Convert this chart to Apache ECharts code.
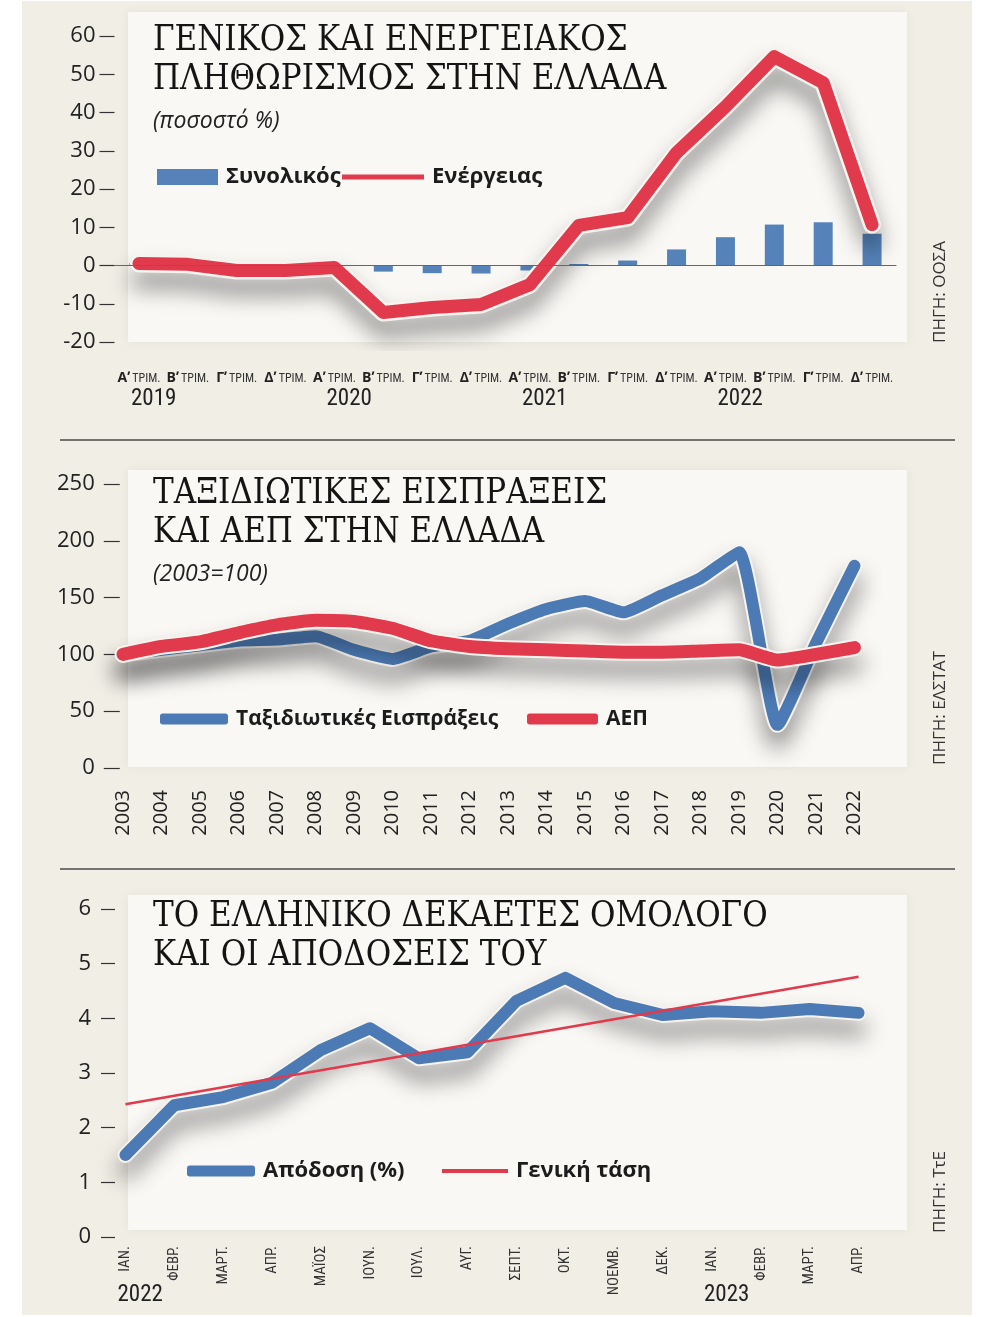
<!DOCTYPE html>
<html>
<head>
<meta charset="utf-8">
<script src="https://cdn.jsdelivr.net/npm/echarts@6/dist/echarts.min.js"></script>
<style>
  html, body { margin: 0; padding: 0; background: #fff; }
  #chart { width: 1000px; height: 1317px; }
</style>
</head>
<body>
<div id="chart"></div>
<script>
  // --- chart 1: inflation, quarterly ---
  const quarterLabels = [
    'Αʹ ΤΡΙΜ.', 'Βʹ ΤΡΙΜ.', 'Γʹ ΤΡΙΜ.', 'Δʹ ΤΡΙΜ.',
    'Αʹ ΤΡΙΜ.', 'Βʹ ΤΡΙΜ.', 'Γʹ ΤΡΙΜ.', 'Δʹ ΤΡΙΜ.',
    'Αʹ ΤΡΙΜ.', 'Βʹ ΤΡΙΜ.', 'Γʹ ΤΡΙΜ.', 'Δʹ ΤΡΙΜ.',
    'Αʹ ΤΡΙΜ.', 'Βʹ ΤΡΙΜ.', 'Γʹ ΤΡΙΜ.', 'Δʹ ΤΡΙΜ.'
  ];
  const quarterYears = ['2019', '2020', '2021', '2022'];
  const quarterYearIndex = [0, 4, 8, 12];
  const inflationTotal = [0.6, 0.3, 0.1, 0.5, 0.3, -1.6, -2.0, -2.1, -1.3, 0.4, 1.3, 4.2, 7.4, 10.7, 11.3, 8.3];
  const inflationEnergy = [0.5, 0.3, -1.3, -1.3, -0.5, -12.3, -11.0, -10.2, -5.0, 10.5, 12.5, 29.5, 41.5, 54.6, 47.8, 10.7];

  // --- chart 2: travel receipts and GDP, yearly ---
  const years = ['2003', '2004', '2005', '2006', '2007', '2008', '2009', '2010', '2011', '2012',
    '2013', '2014', '2015', '2016', '2017', '2018', '2019', '2020', '2021', '2022'];
  const travelReceipts = [100, 104, 108, 112, 113, 116, 104, 96, 107, 112, 127, 140, 147, 137, 152, 167, 190, 38, 110, 178];
  const gdpIndex = [100, 107, 111, 119, 126, 130, 129, 123, 112, 107, 105, 104, 103, 102, 102, 103, 104, 95, 100, 106];

  // --- chart 3: 10y bond yield, monthly ---
  const months = ['ΙΑΝ.', 'ΦΕΒΡ.', 'ΜΑΡΤ.', 'ΑΠΡ.', 'ΜΑΪΟΣ', 'ΙΟΥΝ.', 'ΙΟΥΛ.', 'ΑΥΓ.',
    'ΣΕΠΤ.', 'ΟΚΤ.', 'ΝΟΕΜΒ.', 'ΔΕΚ.', 'ΙΑΝ.', 'ΦΕΒΡ.', 'ΜΑΡΤ.', 'ΑΠΡ.'];
  const monthYears = ['2022', '2023'];
  const monthYearIndex = [0, 12];
  const bondYield = [1.5, 2.41, 2.56, 2.82, 3.42, 3.82, 3.27, 3.38, 4.32, 4.74, 4.28, 4.06, 4.13, 4.10, 4.17, 4.10];
  const yieldTrend = [2.43, null, null, null, null, null, null, null, null, null, null, null, null, null, null, 4.76];

  const RED = '#e03a4c';
  const BLUE = '#4c7ab4';
  const BAR_BLUE = '#5582b9';
  const INK = '#1c1c1c';
  const SANS = "'Open Sans', 'Noto Sans', sans-serif";
  const NARROW = "'Liberation Sans Narrow', 'Roboto Condensed', Roboto, sans-serif";
  const SERIF = "'DejaVu Serif Condensed', 'DejaVu Serif', serif";

  const halo = { color: '#f7f3ee', shadowColor: 'rgba(0,0,0,0.42)', shadowBlur: 22, shadowOffsetY: 16 };

  function yAxisBase(gridIndex, min, max, interval, margin, inside, tickLen) {
    return {
      type: 'value', gridIndex, min, max, interval,
      axisLine: { show: false },
      axisTick: { show: true, inside, length: tickLen, lineStyle: { color: '#333', width: 1.2 } },
      splitLine: { show: false },
      axisLabel: { margin, fontFamily: SANS, fontSize: 22, color: '#222' }
    };
  }

  function lineSeries(name, x, y, data, color, width, z, extra) {
    return Object.assign({
      name, type: 'line', xAxisIndex: x, yAxisIndex: y, data,
      symbol: 'none', z, color,
      itemStyle: { color },
      lineStyle: { color, width, cap: 'round', join: 'round' },
      emphasis: { disabled: true }
    }, extra || {});
  }

  function haloSeries(name, x, y, data, width, z, smooth) {
    return {
      name, type: 'line', xAxisIndex: x, yAxisIndex: y, data, smooth: smooth || false,
      symbol: 'none', z, silent: true, legendHoverLink: false,
      lineStyle: Object.assign({ width, cap: 'round', join: 'round' }, halo),
      emphasis: { disabled: true }
    };
  }

  function legendOne(name, left, top, w, h, icon, size) {
    return {
      data: [{ name, icon }], left, top, padding: 0, itemWidth: w, itemHeight: h,
      itemGap: 0, selectedMode: false,
      textStyle: {
        fontFamily: SANS, fontSize: size || 22, fontWeight: 'bold', color: INK,
        lineHeight: 24, padding: [0, 0, 0, 3]
      }
    };
  }

  const titleStyle = { fontFamily: SERIF, fontSize: 34.5, fontWeight: 'normal', color: '#141414', lineHeight: 39 };
  const subStyle = { fontFamily: SANS, fontSize: 23, fontStyle: 'italic', color: '#222', lineHeight: 26 };

  const option = {
    animation: false,
    title: [
      { text: 'ΓΕΝΙΚΟΣ ΚΑΙ ΕΝΕΡΓΕΙΑΚΟΣ\nΠΛΗΘΩΡΙΣΜΟΣ ΣΤΗΝ ΕΛΛΑΔΑ', subtext: '(ποσοστό %)',
        left: 153, top: 22, padding: 0, itemGap: 8, textStyle: titleStyle, subtextStyle: subStyle },
      { text: 'ΤΑΞΙΔΙΩΤΙΚΕΣ ΕΙΣΠΡΑΞΕΙΣ\nΚΑΙ ΑΕΠ ΣΤΗΝ ΕΛΛΑΔΑ', subtext: '(2003=100)',
        left: 153, top: 475, padding: 0, itemGap: 8, textStyle: titleStyle, subtextStyle: subStyle },
      { text: 'ΤΟ ΕΛΛΗΝΙΚΟ ΔΕΚΑΕΤΕΣ ΟΜΟΛΟΓΟ\nΚΑΙ ΟΙ ΑΠΟΔΟΣΕΙΣ ΤΟΥ',
        left: 153, top: 898, padding: 0, textStyle: titleStyle }
    ],
    legend: [
      legendOne('Συνολικός', 157, 165, 61, 16, 'rect'),
      legendOne('Ενέργειας', 342, 165, 82, 5, 'rect'),
      legendOne('Ταξιδιωτικές Εισπράξεις', 160, 707, 68, 11, 'roundRect', 21),
      legendOne('ΑΕΠ', 527, 707, 71, 11, 'roundRect', 21),
      legendOne('Απόδοση (%)', 187, 1159, 68, 11, 'roundRect'),
      legendOne('Γενική τάση', 442, 1159, 66, 4, 'rect')
    ],
    grid: [
      { left: 114.5, top: 36, width: 782, height: 306 },
      { left: 103.75, top: 484, width: 770, height: 284 },
      { left: 101, top: 909, width: 782, height: 328 }
    ],
    xAxis: [
      {
        type: 'category', gridIndex: 0, data: quarterLabels, offset: 5,
        axisLine: { show: false, onZero: false },
        axisTick: { alignWithLabel: true, length: 15, lineStyle: { color: '#333', width: 1.2 } },
        axisLabel: {
          interval: 0, margin: 24,
          formatter: (v) => {
            const parts = v.split(' ');
            return '{q|' + parts[0] + '}{t|' + parts[1] + '}';
          },
          rich: {
            q: { fontFamily: SANS, fontSize: 14, fontWeight: 'bold', color: '#222' },
            t: { fontFamily: NARROW, fontSize: 12, color: '#333', padding: [1, 0, 0, 2] }
          }
        }
      },
      {
        type: 'category', gridIndex: 1, data: years,
        axisLine: { show: false, onZero: false },
        axisTick: { alignWithLabel: true, length: 17, lineStyle: { color: '#333', width: 1.2 } },
        axisLabel: { interval: 0, rotate: 90, margin: 22, fontFamily: SANS, fontSize: 20, color: '#222' }
      },
      {
        type: 'category', gridIndex: 2, data: months, offset: 3,
        axisLine: { show: false, onZero: false },
        axisTick: { length: 27, interval: (i) => i > 0, lineStyle: { color: '#333', width: 1.2 } },
        axisLabel: { interval: 0, rotate: 90, margin: 6, fontFamily: NARROW, fontSize: 15, color: '#333' }
      }
    ],
    yAxis: [
      yAxisBase(0, -20, 60, 10, 19, false, 15),
      yAxisBase(1, 0, 250, 50, 9, true, 16),
      yAxisBase(2, 0, 6, 1, 10, true, 14)
    ],
    series: [
      {
        name: 'Συνολικός', type: 'bar', xAxisIndex: 0, yAxisIndex: 0, data: inflationTotal,
        barWidth: 19, z: 2, color: BAR_BLUE, itemStyle: { color: BAR_BLUE },
        emphasis: { disabled: true },
        markLine: {
          silent: true, symbol: 'none', label: { show: false },
          lineStyle: { color: '#666', width: 1.2, type: 'solid' },
          data: [{ yAxis: 0 }]
        }
      },
      haloSeries('energy-halo', 0, 0, inflationEnergy, 18, 3),
      lineSeries('Ενέργειας', 0, 0, inflationEnergy, RED, 13, 4),

      haloSeries('travel-halo', 1, 1, travelReceipts, 16, 3, 0.15),
      lineSeries('Ταξιδιωτικές Εισπράξεις', 1, 1, travelReceipts, BLUE, 12, 4, { smooth: 0.15 }),
      haloSeries('gdp-halo', 1, 1, gdpIndex, 17, 5, 0.15),
      lineSeries('ΑΕΠ', 1, 1, gdpIndex, RED, 13, 6, { smooth: 0.15 }),

      haloSeries('yield-halo', 2, 2, bondYield, 16, 3),
      lineSeries('Απόδοση (%)', 2, 2, bondYield, BLUE, 12, 4),
      lineSeries('Γενική τάση', 2, 2, yieldTrend, RED, 2.5, 5, { connectNulls: true, lineStyle: { color: RED, width: 2.5 } })
    ]
  };

  const chart = echarts.init(document.getElementById('chart'), null, { renderer: 'canvas' });
  chart.setOption(option);

  // decorative background, separators, source notes and year labels under the axes
  const yearStyle = { fontFamily: NARROW, fontSize: 23, fill: '#222', textVerticalAlign: 'middle' };
  const yearEls = [];
  quarterYears.forEach((y, k) => {
    const px = chart.convertToPixel({ xAxisIndex: 0 }, quarterYearIndex[k]);
    yearEls.push({ type: 'text', x: px - 8, y: 399, style: Object.assign({ text: y }, yearStyle) });
  });
  monthYears.forEach((y, k) => {
    const px = chart.convertToPixel({ xAxisIndex: 2 }, monthYearIndex[k]);
    yearEls.push({ type: 'text', x: px - 8, y: 1295, style: Object.assign({ text: y }, yearStyle) });
  });

  const panel = (y, h) => ({
    type: 'rect', z: -10, silent: true,
    shape: { x: 128, y, width: 779, height: h },
    style: { fill: '#f9f8f5', shadowBlur: 10, shadowColor: 'rgba(0,0,0,0.06)' }
  });
  const sep = (y) => ({
    type: 'line', z: -5, silent: true,
    shape: { x1: 60, y1: y, x2: 955, y2: y },
    style: { stroke: '#4a4a4a', lineWidth: 1.5 }
  });
  const source = (text, yBottom) => ({
    type: 'text', x: 940, y: yBottom, rotation: Math.PI / 2, silent: true,
    style: { text, fontFamily: SANS, fontSize: 17, fill: '#333', textAlign: 'left', textVerticalAlign: 'middle' }
  });

  chart.setOption({
    graphic: {
      elements: [
        { type: 'rect', z: -20, silent: true, shape: { x: 22, y: 1, width: 950, height: 1314 }, style: { fill: '#f1eee6' } },
        panel(12, 330),
        panel(470, 297),
        panel(895, 335),
        sep(440),
        sep(869),
        source('ΠΗΓΗ: ΟΟΣΑ', 343),
        source('ΠΗΓΗ: ΕΛΣΤΑΤ', 765),
        source('ΠΗΓΗ: ΤτΕ', 1233)
      ].concat(yearEls)
    }
  });
</script>
</body>
</html>
